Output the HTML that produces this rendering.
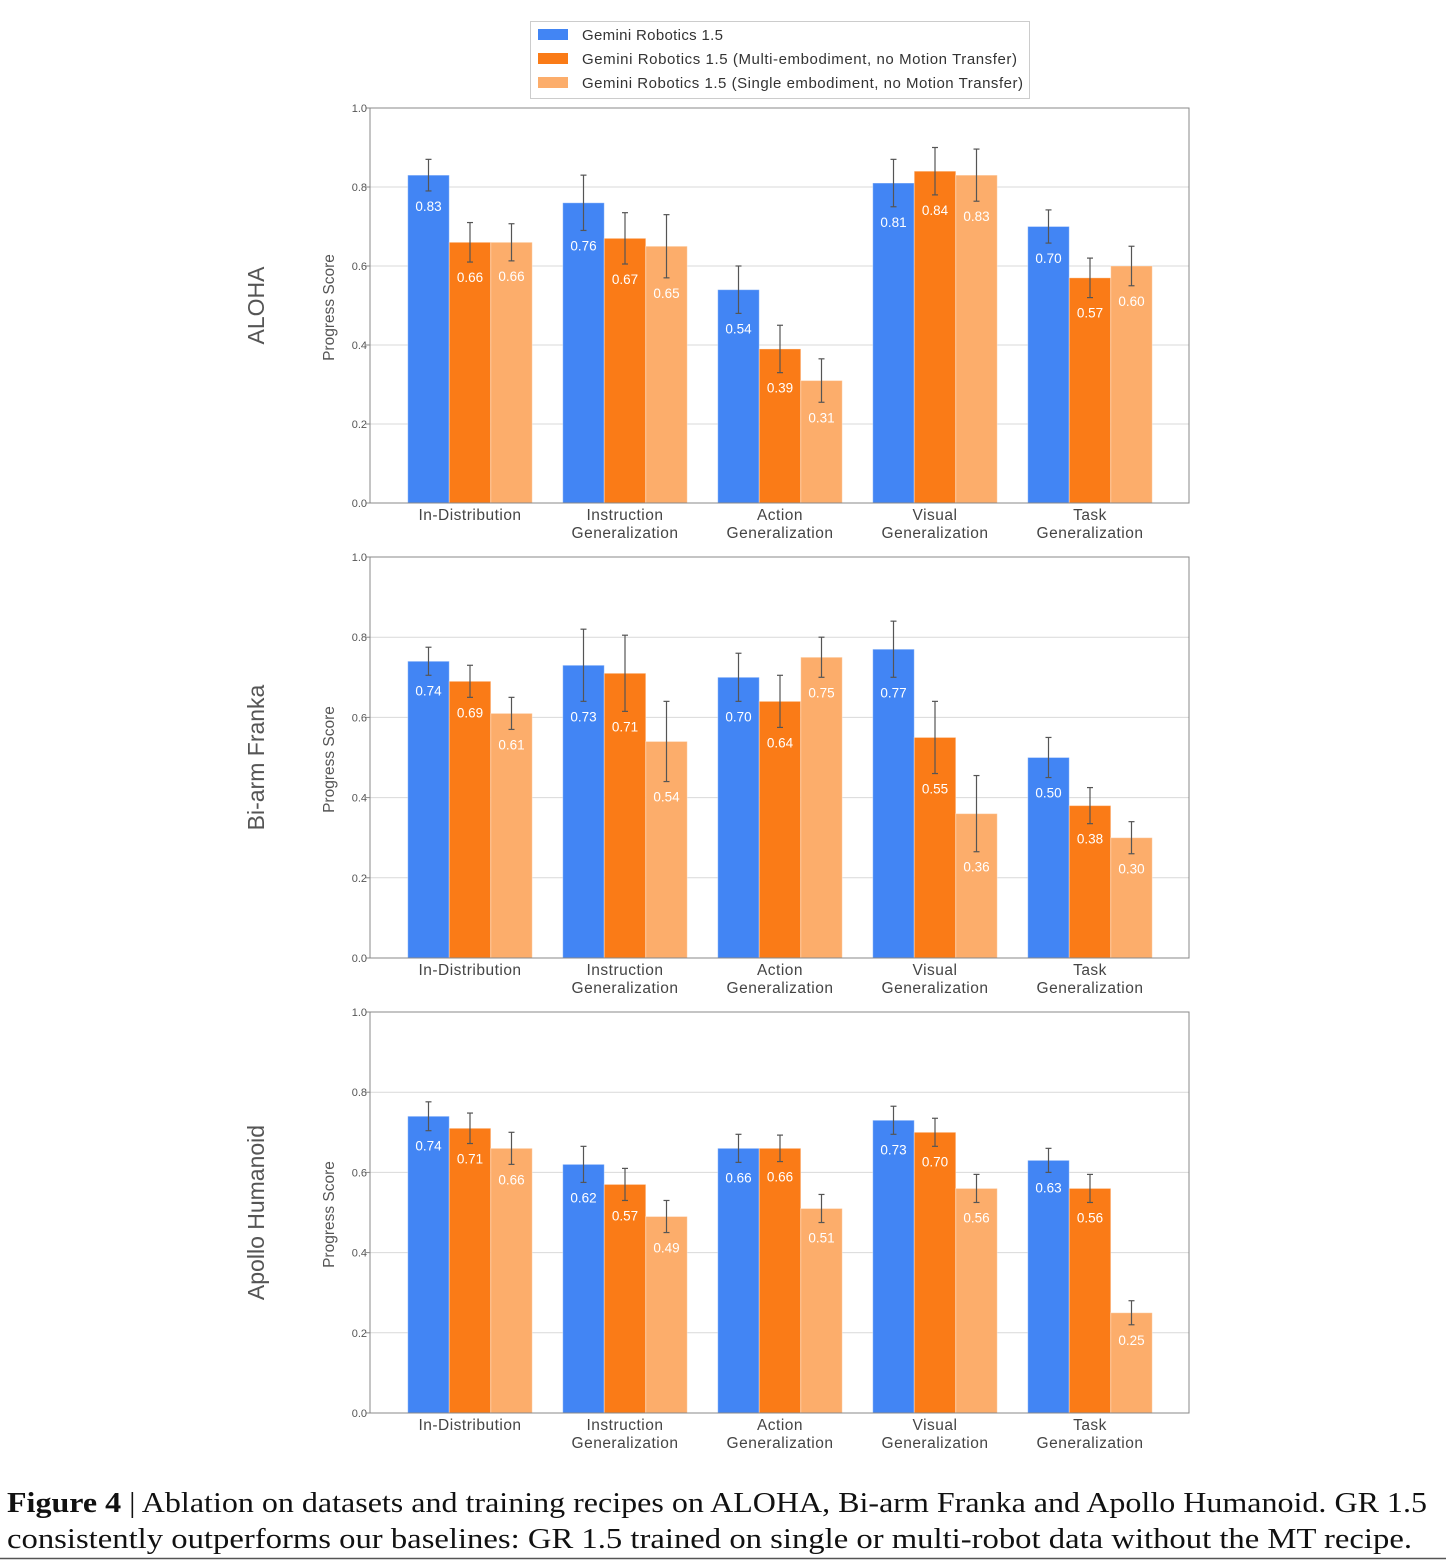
<!DOCTYPE html>
<html><head><meta charset="utf-8"><style>
html,body{margin:0;padding:0;background:#fff}
svg{display:block;font-family:"Liberation Sans",sans-serif}
</style></head><body>
<svg id="chart" width="1446" height="1560" viewBox="0 0 1446 1560" xmlns="http://www.w3.org/2000/svg">
<g id="legend">
<rect x="530.5" y="21.5" width="499" height="77" fill="#fff" stroke="#ccc"/>
<rect x="538" y="29" width="30" height="11" fill="#4285f4"/>
<text x="582" y="40" font-size="15" fill="#333" textLength="141" lengthAdjust="spacing">Gemini Robotics 1.5</text>
<rect x="538" y="53" width="30" height="11" fill="#fa7b17"/>
<text x="582" y="64" font-size="15" fill="#333" textLength="435" lengthAdjust="spacing">Gemini Robotics 1.5 (Multi-embodiment, no Motion Transfer)</text>
<rect x="538" y="77" width="30" height="11" fill="#fcad6b"/>
<text x="582" y="88" font-size="15" fill="#333" textLength="441" lengthAdjust="spacing">Gemini Robotics 1.5 (Single embodiment, no Motion Transfer)</text>
</g>
<g id="panels"></g>
<text x="7" y="1512" font-family="Liberation Serif, serif" font-size="28" fill="#111" textLength="1420" lengthAdjust="spacingAndGlyphs"><tspan font-weight="bold">Figure 4</tspan> | Ablation on datasets and training recipes on ALOHA, Bi-arm Franka and Apollo Humanoid. GR 1.5</text>
<text x="7" y="1548" font-family="Liberation Serif, serif" font-size="28" fill="#111" textLength="1405" lengthAdjust="spacingAndGlyphs">consistently outperforms our baselines: GR 1.5 trained on single or multi-robot data without the MT recipe.</text>
<line x1="0" y1="1558.5" x2="1446" y2="1558.5" stroke="#555" stroke-width="1.5"/>
</svg>
<script>
const categories = [["In-Distribution"],["Instruction","Generalization"],["Action","Generalization"],["Visual","Generalization"],["Task","Generalization"]];
const panelTitles = ["ALOHA","Bi-arm Franka","Apollo Humanoid"];
const seriesNames = ["gr15","multi","single"];
const yTicks = [0,0.2,0.4,0.6,0.8,1.0];
// values[panel][series][category]
const aloha = [[0.83,0.76,0.54,0.81,0.70],[0.66,0.67,0.39,0.84,0.57],[0.66,0.65,0.31,0.83,0.60]];
const alohaErr = [[0.04,0.07,0.06,0.06,0.042],[0.05,0.065,0.06,0.06,0.05],[0.047,0.08,0.055,0.066,0.05]];
const franka = [[0.74,0.73,0.70,0.77,0.50],[0.69,0.71,0.64,0.55,0.38],[0.61,0.54,0.75,0.36,0.30]];
const frankaErr = [[0.035,0.09,0.06,0.07,0.05],[0.04,0.095,0.065,0.09,0.045],[0.04,0.1,0.05,0.095,0.04]];
const apollo = [[0.74,0.62,0.66,0.73,0.63],[0.71,0.57,0.66,0.70,0.56],[0.66,0.49,0.51,0.56,0.25]];
const apolloErr = [[0.036,0.045,0.035,0.035,0.03],[0.038,0.04,0.033,0.035,0.035],[0.04,0.04,0.035,0.035,0.03]];
const panelValues = [aloha, franka, apollo];
const panelErrors = [alohaErr, frankaErr, apolloErr];

const colors = ["#4285f4","#fa7b17","#fcad6b"];
const NS = "http://www.w3.org/2000/svg";
const root = document.getElementById('panels');
const layout = [{top:108,bottom:503},{top:557,bottom:958},{top:1012,bottom:1413}];
const xL = 370, xR = 1189, bw = 41.5, gc0 = 470, gstep = 155;
function mk(tag, attrs, parent){const e=document.createElementNS(NS,tag);for(const k in attrs)e.setAttribute(k,attrs[k]);parent.appendChild(e);return e;}

panelValues.forEach((vals, p) => {
  const L = layout[p];
  const yS = v => L.bottom - v*(L.bottom-L.top);
  const xS = (c,s) => gc0 + c*gstep + (s-1.5)*bw;
  const g = mk('g',{},root);
  
  
  yTicks.forEach(t => {
    const y = yS(t);
    if (t>0 && t<1) mk('line',{x1:xL,x2:xR,y1:y,y2:y,stroke:'#d9d9d9','stroke-width':1},g);
    mk('line',{x1:xL-4,x2:xL,y1:y,y2:y,stroke:'#888'},g);
    const tx = mk('text',{x:xL-3,y:y+4,'font-size':11,fill:'#555','text-anchor':'end'},g);
    tx.textContent = t.toFixed(1);
    
    
  });
  vals.forEach((ser, s) => {
    ser.forEach((v, c) => {
      const x = xS(c,s), y = yS(v);
      const r = mk('rect',{x:x,y:y,width:bw,height:L.bottom-y,fill:colors[s],stroke:'rgba(255,255,255,0.35)','stroke-width':1},g);
      
      
      const e = panelErrors[p][s][c], cx = x + bw/2;
      const y1 = yS(v+e), y2 = yS(v-e);
      mk('line',{x1:cx,x2:cx,y1:y1,y2:y2,stroke:'#555','stroke-width':1.2},g);
      mk('line',{x1:cx-3,x2:cx+3,y1:y1,y2:y1,stroke:'#555','stroke-width':1.2},g);
      mk('line',{x1:cx-3,x2:cx+3,y1:y2,y2:y2,stroke:'#555','stroke-width':1.2},g);
      const lt = mk('text',{x:cx,y:y2+20,'font-size':13.5,fill:'#fff','text-anchor':'middle'},g);
      lt.textContent = v.toFixed(2);
      
      
    });
  });
  mk('rect',{x:xL,y:L.top,width:xR-xL,height:L.bottom-L.top,fill:'none',stroke:'#888','stroke-width':1},g);
  categories.forEach((lines, c) => {
    const cx = gc0 + c*gstep;
    lines.forEach((ln, i) => {
      const t = mk('text',{x:cx,y:L.bottom+17+i*18,'font-size':15.5,fill:'#444','text-anchor':'middle','letter-spacing':0.5},g);
      t.textContent = ln;
      
      
    });
  });
  const my = (L.top+L.bottom)/2;
  const yt = mk('text',{x:0,y:0,'font-size':15.5,fill:'#555','text-anchor':'middle',transform:`translate(334,${my+2}) rotate(-90)`},g);
  yt.textContent = 'Progress Score';
  
  
  const pt = mk('text',{x:0,y:0,'font-size':23,fill:'#555','text-anchor':'middle',transform:`translate(264,${my}) rotate(-90)`},g);
  pt.textContent = panelTitles[p];
  
  
});
</script>
</body></html>
